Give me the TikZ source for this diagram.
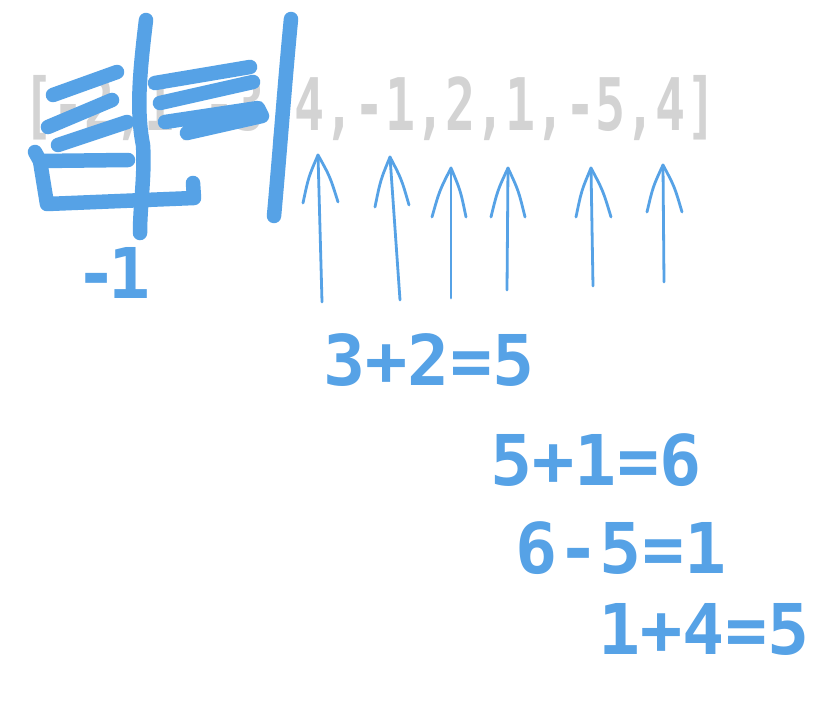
\documentclass[tikz,border=0pt]{standalone}
\usepackage{fontspec}
\newfontfamily\handfont{DejaVu Sans Mono}
\definecolor{inkblue}{HTML}{56A2E6}
\definecolor{inkgray}{HTML}{D3D3D3}
\begin{document}
\begin{tikzpicture}[x=1pt,y=-1pt,
  stroke/.style={draw=inkblue, line width=14.5pt, line cap=round, line join=round},
  thinink/.style={draw=inkblue, line width=2.8pt, line cap=round, line join=round},
  calc/.style={text=inkblue, inner sep=0pt, font=\handfont\bfseries\fontsize{70}{70}\selectfont},
]
\useasboundingbox[fill=white] (0,0) rectangle (825,701);
% gray array text
\node[text=inkgray, inner sep=0pt, anchor=base,
      font=\handfont\bfseries\fontsize{50}{50}\selectfont] (arr) at (370,130)
      {\scalebox{1}[1.45]{[-2,1,-3,4,-1,2,1,-5,4]}};
% left scribbles
\draw[stroke] (53,95) -- (117,72);
\draw[stroke] (48,127) -- (112,100);
\draw[stroke] (58,145) -- (127,122);
\draw[stroke] (35,152) -- (40,161) -- (128,160);
\draw[stroke] (40,161) -- (47,204) -- (194,198) -- (193,183);
% right scribbles
\draw[stroke] (155,83) -- (250,67);
\draw[stroke] (160,103) -- (253,82);
\draw[stroke] (165,122) -- (258,108) -- (262,116) -- (187,133);
% vertical separators
\draw[stroke] (146,20) .. controls (140,70) and (136,110) .. (143,145) .. controls (145,175) and (140,205) .. (140,233);
\draw[stroke] (291,19) .. controls (285,80) and (280,150) .. (274,216);
% label under the first separator
\node[calc] (minusone) at (113,273) {-\kern-10pt1};
% arrows
\foreach \tx/\ty/\bx/\by/\lx/\ly/\rx/\ry [count=\i] in
  {318/155/322/302/303/203/338/202,
   390/157/400/300/375/207/409/205,
   451/168/451/298/432/217/466/217,
   508/168/507/290/491/217/525/217,
   591/168/593/286/576/217/611/217,
   663/165/664/282/647/212/682/212}{
  \coordinate (tip\i) at (\tx,\ty);
  \coordinate (foot\i) at (\bx,\by);
  \coordinate (lb\i) at (\lx,\ly);
  \coordinate (rb\i) at (\rx,\ry);
  \draw[thinink] (foot\i) -- (tip\i);
  \draw[thinink] (lb\i) .. controls ({(\lx+\tx)/2-2},{(\ly+\ty)/2-2}) .. (tip\i)
                 .. controls ({(\rx+\tx)/2+2},{(\ry+\ty)/2-2}) .. (rb\i);
}
% computations
\node[calc] (c1) at (429,360) {3+2=5};
\node[calc] (c2) at (596,460) {5+1=6};
\node[calc] (c3) at (621,548) {6-5=1};
\node[calc] (c4) at (704,629) {1+4=5};
\end{tikzpicture}
\end{document}
